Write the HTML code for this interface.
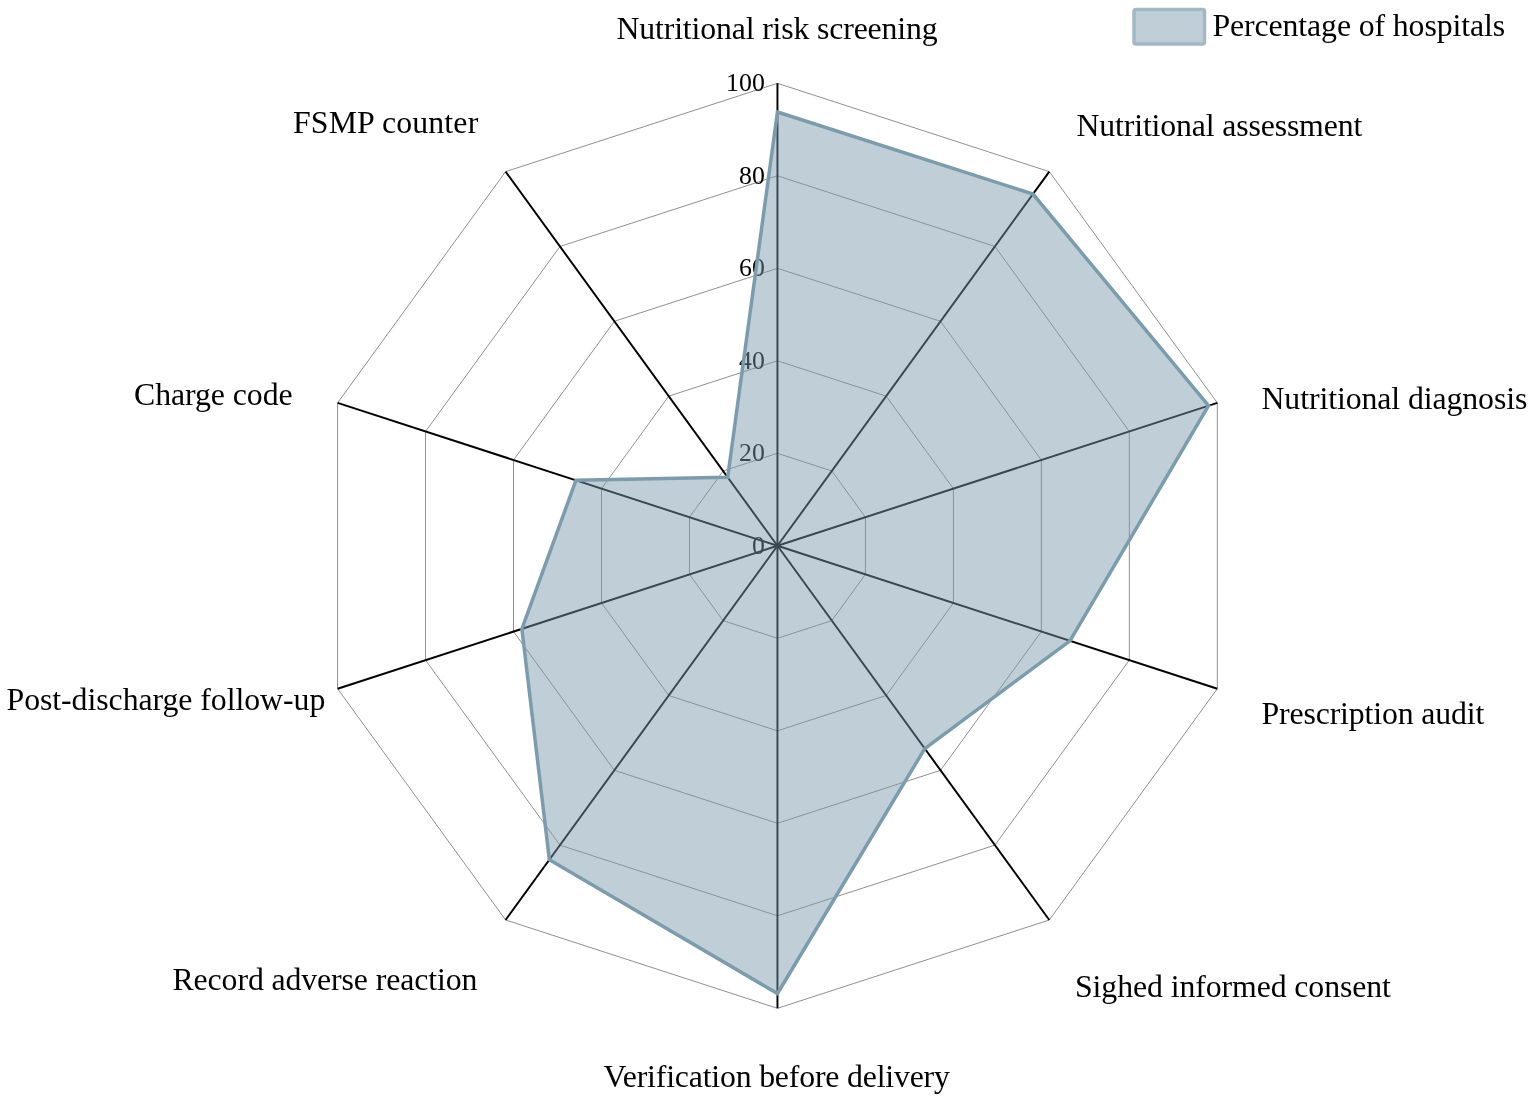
<!DOCTYPE html>
<html lang="en"><head><meta charset="utf-8"><title>Radar chart</title>
<style>
html,body{margin:0;padding:0;background:#fff;}
body{width:1535px;height:1101px;overflow:hidden;}
svg{display:block;}
text{font-family:"Liberation Serif","Times New Roman",serif;fill:#000;}
.lab{font-size:31.8px;}
.tick{font-size:25.8px;text-anchor:end;}
.grid{fill:none;stroke:#909090;stroke-width:1;}
.axis{stroke:#000;stroke-width:1.95;}
</style></head><body>
<svg width="1535" height="1101" viewBox="0 0 1535 1101">
<rect width="1535" height="1101" fill="#fff"/>

<polygon class="grid" points="777.45,453.30 831.82,470.97 865.42,517.22 865.42,574.38 831.82,620.63 777.45,638.30 723.08,620.63 689.48,574.38 689.48,517.22 723.08,470.97"/>
<polygon class="grid" points="777.45,360.80 886.19,396.13 953.40,488.63 953.40,602.97 886.19,695.47 777.45,730.80 668.71,695.47 601.50,602.97 601.50,488.63 668.71,396.13"/>
<polygon class="grid" points="777.45,268.30 940.56,321.30 1041.37,460.05 1041.37,631.55 940.56,770.30 777.45,823.30 614.34,770.30 513.53,631.55 513.53,460.05 614.34,321.30"/>
<polygon class="grid" points="777.45,175.80 994.93,246.46 1129.34,431.46 1129.34,660.14 994.93,845.14 777.45,915.80 559.97,845.14 425.56,660.14 425.56,431.46 559.97,246.46"/>
<polygon class="grid" points="777.45,83.30 1049.30,171.63 1217.31,402.88 1217.31,688.72 1049.30,919.97 777.45,1008.30 505.60,919.97 337.59,688.72 337.59,402.88 505.60,171.63"/>
<line class="axis" x1="777.45" y1="545.8" x2="777.45" y2="83.30"/>
<line class="axis" x1="777.45" y1="545.8" x2="1049.30" y2="171.63"/>
<line class="axis" x1="777.45" y1="545.8" x2="1217.31" y2="402.88"/>
<line class="axis" x1="777.45" y1="545.8" x2="1217.31" y2="688.72"/>
<line class="axis" x1="777.45" y1="545.8" x2="1049.30" y2="919.97"/>
<line class="axis" x1="777.45" y1="545.8" x2="777.45" y2="1008.30"/>
<line class="axis" x1="777.45" y1="545.8" x2="505.60" y2="919.97"/>
<line class="axis" x1="777.45" y1="545.8" x2="337.59" y2="688.72"/>
<line class="axis" x1="777.45" y1="545.8" x2="337.59" y2="402.88"/>
<line class="axis" x1="777.45" y1="545.8" x2="505.60" y2="171.63"/>
<text class="tick" x="764.8" y="553.5">0</text>
<text class="tick" x="764.8" y="461.0">20</text>
<text class="tick" x="764.8" y="368.5">40</text>
<text class="tick" x="764.8" y="276.0">60</text>
<text class="tick" x="764.8" y="183.5">80</text>
<text class="tick" x="764.8" y="91.0">100</text>
<text class="lab" id="L0" x="616.50" y="39.30" textLength="321.17" lengthAdjust="spacing">Nutritional risk screening</text>
<text class="lab" id="L1" x="1076.50" y="136.10" textLength="285.78" lengthAdjust="spacing">Nutritional assessment</text>
<text class="lab" id="L2" x="1261.50" y="409.40" textLength="265.81" lengthAdjust="spacing">Nutritional diagnosis</text>
<text class="lab" id="L3" x="1261.50" y="724.40" textLength="222.79" lengthAdjust="spacing">Prescription audit</text>
<text class="lab" id="L4" x="1075.00" y="996.80" textLength="315.92" lengthAdjust="spacing">Sighed informed consent</text>
<text class="lab" id="L5" x="603.50" y="1087.40" textLength="346.38" lengthAdjust="spacing">Verification before delivery</text>
<text class="lab" id="L6" x="172.50" y="989.90" textLength="304.82" lengthAdjust="spacing">Record adverse reaction</text>
<text class="lab" id="L7" x="6.50" y="709.90" textLength="318.80" lengthAdjust="spacing">Post-discharge follow-up</text>
<text class="lab" id="L8" x="134.00" y="405.20" textLength="158.62" lengthAdjust="spacing">Charge code</text>
<text class="lab" id="L9" x="293.00" y="133.00" textLength="185.24" lengthAdjust="spacing">FSMP counter</text>
<text class="lab" id="L10" x="1212.50" y="35.60" textLength="292.52" lengthAdjust="spacing">Percentage of hospitals</text>
<polygon points="777.45,111.97 1032.99,194.08 1208.52,405.74 1069.96,640.84 924.79,748.60 777.45,993.50 549.37,859.73 521.89,628.84 575.99,480.34 727.70,477.33" fill="rgba(122,154,171,0.47)" stroke="#7c9cac" stroke-width="3.5" stroke-linejoin="miter"/>
<rect x="1134" y="9.5" width="70.5" height="34.5" rx="2" fill="rgba(122,154,171,0.47)" stroke="#a3b8c2" stroke-width="3.5"/>
</svg></body></html>
